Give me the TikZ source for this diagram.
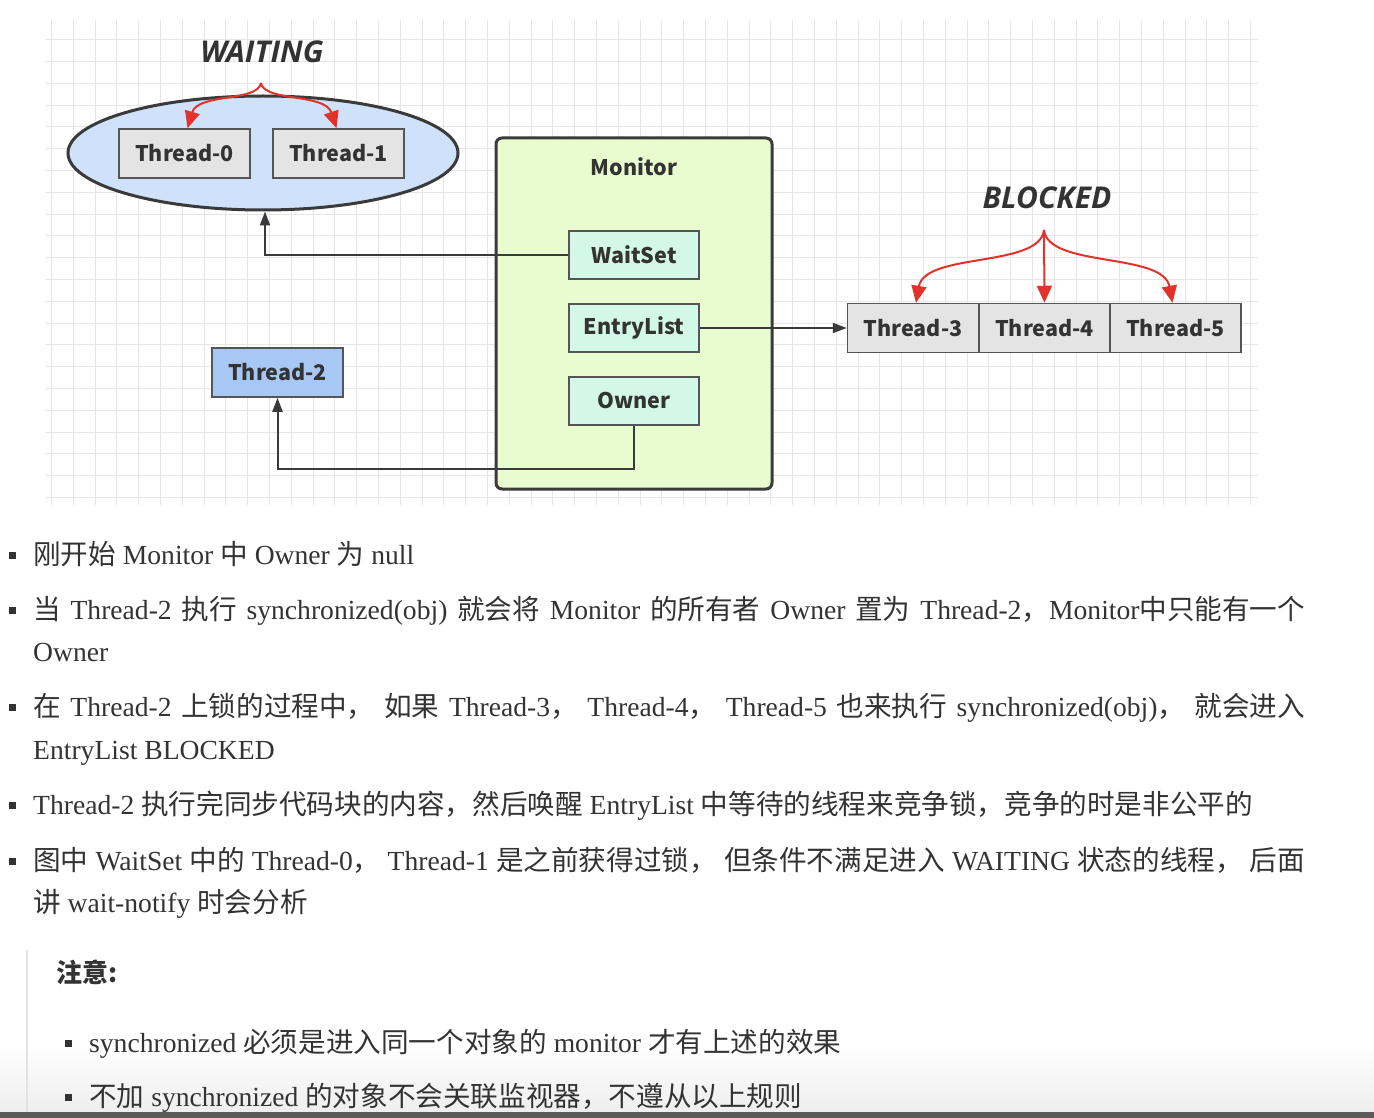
\documentclass[tikz,border=0pt]{standalone}
\usepackage{fontspec}
\setmainfont{Liberation Serif}
\newfontfamily\cjk{Noto Sans CJK SC}
\newfontfamily\statefont{Open Sans}
\usetikzlibrary{arrows.meta,shapes.geometric,calc}

\definecolor{textc}{HTML}{333333}
\definecolor{gridc}{HTML}{E6E6E6}
\definecolor{edgec}{HTML}{3A3A3A}
\definecolor{boxline}{HTML}{555555}
\definecolor{waitfill}{HTML}{D0E2FB}
\definecolor{thrfill}{HTML}{E4E4E4}
\definecolor{monfill}{HTML}{E8FCD0}
\definecolor{slotfill}{HTML}{D3F8E7}
\definecolor{ownerthr}{HTML}{A7C7F5}
\definecolor{redarrow}{HTML}{E2322A}
\definecolor{barc}{HTML}{5A5A5A}
\definecolor{quoteline}{HTML}{E2E2E2}
\definecolor{shadec}{HTML}{EEEEEE}

\newcommand\zh[1]{{\cjk #1}}

\tikzset{
  gridline/.style={gridc, line width=1pt},
  thr/.style={draw=boxline, fill=thrfill, line width=1.5pt, minimum width=131pt,
    minimum height=49pt, inner sep=0pt, text=textc,
    font=\cjk\bfseries\fontsize{21.5}{21.5}\selectfont},
  slot/.style={thr, fill=slotfill, minimum width=130pt, minimum height=48pt},
  statelbl/.style={text=textc, inner sep=0pt,
    font=\statefont\bfseries\itshape\fontsize{30}{30}\selectfont},
  conn/.style={edgec, line width=2pt, -{Triangle[length=14pt,width=10pt]}},
  redconn/.style={redarrow, line width=2pt, -{Triangle[length=17pt,width=15pt]}},
  para/.style={anchor=base west, inner sep=0pt, text=textc,
    font=\fontsize{27.6}{30}\selectfont},
  bullet/.style={fill=textc},
}

\begin{document}
\begin{tikzpicture}[x=1pt,y=-1pt]
  \useasboundingbox (0,0) rectangle (1374,1118);
  \fill[white] (0,0) rectangle (1374,1118);

  % soft shade along the lower edge, behind the text
  \shade[top color=white, bottom color=shadec] (0,1045) rectangle (1374,1112);
  \fill[barc] (0,1112) rectangle (1374,1118);

  % background grid of the drawing canvas
  \foreach \i in {0,...,55}
    \draw[gridline] ({51.5+21.8*\i},20) -- ({51.5+21.8*\i},505);
  \foreach \j in {0,...,21}
    \draw[gridline] (45,{39.7+21.8*\j}) -- (1258,{39.7+21.8*\j});

  % waiting room
  \node[ellipse, draw=edgec, fill=waitfill, line width=3pt, minimum width=390pt,
        minimum height=114pt, inner sep=0pt] (wait) at (263,153) {};
  \node[thr] (t0) at (184.5,153.5) {Thread-0};
  \node[thr] (t1) at (338.5,153.5) {Thread-1};
  \node[statelbl] (wlbl) at (262,52) {WAITING};
  \coordinate (wapex) at (261,83);

  % monitor
  \node[draw=edgec, fill=monfill, line width=3pt, rounded corners=6pt,
        minimum width=276pt, minimum height=351pt, inner sep=0pt] (mon) at (634,313.5) {};
  \node[text=textc, inner sep=0pt, font=\cjk\bfseries\fontsize{21.5}{21.5}\selectfont]
        (monlbl) at (634,167) {Monitor};
  \node[slot] (ws) at (634,255) {WaitSet};
  \node[slot] (el) at (634,328) {EntryList};
  \node[slot] (own) at (634,401) {Owner};

  % owner thread
  \node[thr, fill=ownerthr] (t2) at (277.5,372.5) {Thread-2};

  % blocked threads
  \node[thr] (t3) at (913,328) {Thread-3};
  \node[thr] (t4) at (1044.5,328) {Thread-4};
  \node[thr] (t5) at (1175.5,328) {Thread-5};
  \node[statelbl] (blbl) at (1047,198) {BLOCKED};
  \coordinate (bapex) at (1044,230);

  % connectors
  \draw[conn] (ws.west) -| ([xshift=2pt]wait.south);
  \draw[conn] (el.east) -- (t3.west);
  \draw[conn] (own.south) -- ++(0,43) -| (t2.south);

  \draw[redconn] (wapex) .. controls (258,102) and (198,93) .. ([xshift=3pt]t0.north);
  \draw[redconn] (wapex) .. controls (264,102) and (325,93) .. ([xshift=-2pt]t1.north);
  \draw[redconn] (bapex) .. controls (1040,268) and (925,252) .. ([xshift=3pt]t3.north);
  \draw[redconn] (bapex) -- (t4.north);
  \draw[redconn] (bapex) .. controls (1048,268) and (1163,252) .. ([xshift=-3pt]t5.north);

  % explanation list
  \fill[bullet] (9,552) rectangle (15.5,558.5);
  \node[para] (p1) at (33,564) {\zh{刚开始} Monitor \zh{中} Owner \zh{为} null};

  \fill[bullet] (9,607) rectangle (15.5,613.5);
  \node[para] (p2) at (33,619) {\makebox[1272pt][s]{\zh{当} Thread-2 \zh{执行} synchronized(obj) \zh{就会将} Monitor \zh{的所有者} Owner \zh{置为} Thread-2\zh{，}Monitor\zh{中只能有一个}}};
  \node[para] (p2b) at (33,661) {Owner};

  \fill[bullet] (9,704) rectangle (15.5,710.5);
  \node[para] (p3) at (33,716) {\makebox[1272pt][s]{\zh{在} Thread-2 \zh{上锁的过程中，} \zh{如果} Thread-3\zh{，} Thread-4\zh{，} Thread-5 \zh{也来执行} synchronized(obj)\zh{，} \zh{就会进入}}};
  \node[para] (p3b) at (33,759) {EntryList BLOCKED};

  \fill[bullet] (9,802) rectangle (15.5,808.5);
  \node[para] (p4) at (33,814) {Thread-2 \zh{执行完同步代码块的内容，然后唤醒} EntryList \zh{中等待的线程来竞争锁，竞争的时是非公平的}};

  \fill[bullet] (9,858) rectangle (15.5,864.5);
  \node[para] (p5) at (33,870) {\makebox[1272pt][s]{\zh{图中} WaitSet \zh{中的} Thread-0\zh{，} Thread-1 \zh{是之前获得过锁，} \zh{但条件不满足进入} WAITING \zh{状态的线程，} \zh{后面}}};
  \node[para] (p5b) at (33,912) {\zh{讲} wait-notify \zh{时会分析}};

  % note block
  \draw[quoteline, line width=2pt] (27,950) -- (27,1112);
  \node[para, font=\cjk\bfseries\fontsize{26}{30}\selectfont] (note) at (56,982) {注意:};

  \fill[bullet] (65,1040) rectangle (71.5,1046.5);
  \node[para] (n1) at (89,1052) {synchronized \zh{必须是进入同一个对象的} monitor \zh{才有上述的效果}};
  \fill[bullet] (65,1094) rectangle (71.5,1100.5);
  \node[para] (n2) at (89,1106) {\zh{不加} synchronized \zh{的对象不会关联监视器，不遵从以上规则}};
\end{tikzpicture}
\end{document}
